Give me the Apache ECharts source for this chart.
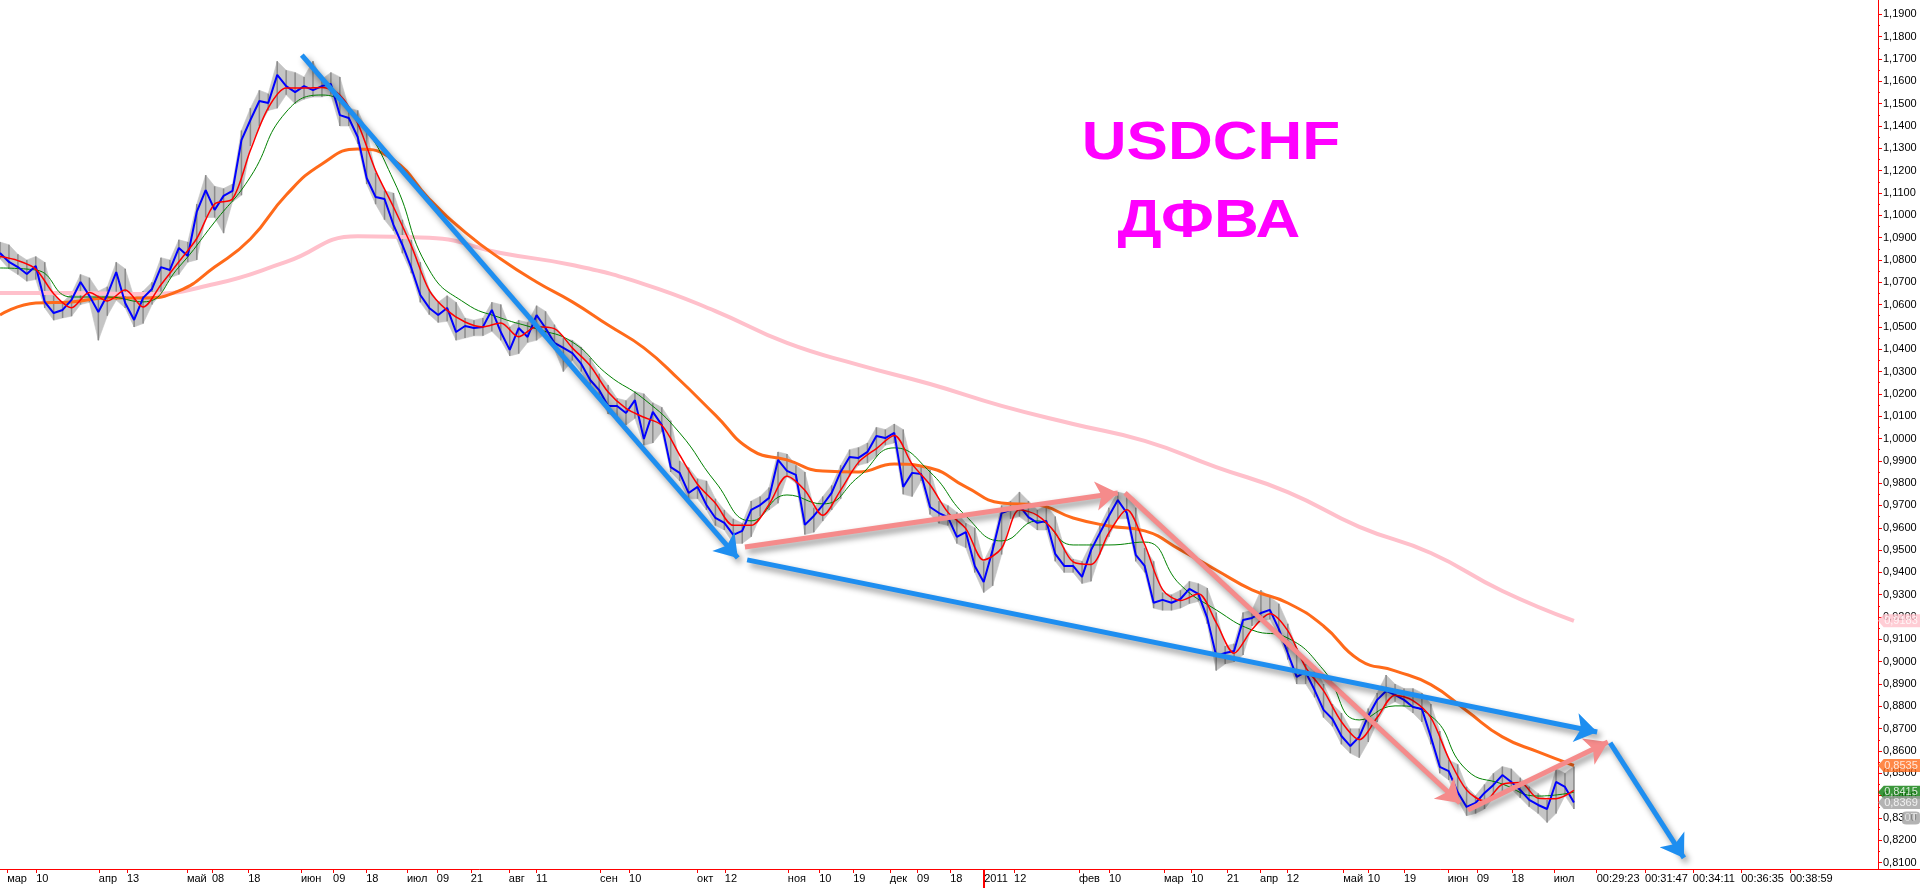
<!DOCTYPE html>
<html>
<head>
<meta charset="utf-8">
<script src="https://cdn.jsdelivr.net/npm/echarts@6/dist/echarts.min.js"></script>
<style>
html,body{margin:0;padding:0;background:#ffffff;}
#chart{width:1920px;height:888px;}
</style>
</head>
<body>
<div id="chart"></div>
<script>
// ---- Data (trading-day index on x, USDCHF price on y) ----
// close every 2 trading days, starting at day 0 (early March 2010)
const CLOSE_STEP = 2;
const closeValues = [
1.0831,1.0791,1.0768,1.0737,1.0773,1.0612,1.0562,1.0576,1.0621,1.0701,
1.0639,1.0567,1.0643,1.0746,1.0607,1.0531,1.0630,1.0670,1.0768,1.0755,
1.0854,1.0818,1.1015,1.1113,1.1024,1.1087,1.1109,1.1337,1.1427,1.1512,
1.1503,1.1629,1.1579,1.1552,1.1579,1.1561,1.1579,1.1588,1.1449,1.1436,
1.1351,1.1167,1.1082,1.1073,1.0957,1.0867,1.0764,1.0643,1.0585,1.0553,
1.0585,1.0477,1.0504,1.0495,1.0500,1.0576,1.0477,1.0397,1.0495,1.0455,
1.0553,1.0495,1.0428,1.0406,1.0383,1.0334,1.0262,1.0217,1.0146,1.0146,
1.0114,1.0172,0.9998,1.0119,1.0061,0.9872,0.9846,0.9756,0.9783,0.9702,
0.9644,0.9622,0.9568,0.9586,0.9680,0.9702,0.9734,0.9904,0.9855,0.9837,
0.9613,0.9653,0.9702,0.9756,0.9850,0.9917,0.9913,0.9940,1.0011,1.0002,
1.0025,0.9783,0.9846,0.9841,0.9693,0.9666,0.9648,0.9559,0.9581,0.9429,
0.9357,0.9500,0.9666,0.9680,0.9698,0.9648,0.9622,0.9630,0.9483,0.9429,
0.9429,0.9380,0.9500,0.9577,0.9653,0.9724,0.9666,0.9479,0.9429,0.9264,
0.9277,0.9264,0.9281,0.9326,0.9304,0.9196,0.9026,0.9039,0.9048,0.9187,
0.9196,0.9218,0.9232,0.9147,0.9039,0.8932,0.8954,0.8873,0.8784,0.8743,
0.8667,0.8622,0.8663,0.8757,0.8829,0.8869,0.8851,0.8829,0.8797,0.8788,
0.8663,0.8529,0.8510,0.8416,0.8349,0.8367,0.8412,0.8448,0.8492,0.8461,
0.8425,0.8381,0.8358,0.8340,0.8461,0.8439,0.8369
];
const highValues = [
1.0880,1.0868,1.0825,1.0800,1.0815,1.0790,1.0640,1.0610,1.0650,1.0735,
1.0720,1.0660,1.0680,1.0790,1.0760,1.0630,1.0660,1.0700,1.0810,1.0800,
1.0890,1.0880,1.1050,1.1180,1.1130,1.1120,1.1140,1.1380,1.1480,1.1560,
1.1545,1.1690,1.1650,1.1640,1.1620,1.1690,1.1610,1.1640,1.1620,1.1480,
1.1470,1.1380,1.1190,1.1110,1.1100,1.0980,1.0890,1.0790,1.0670,1.0610,
1.0640,1.0610,1.0540,1.0530,1.0540,1.0610,1.0600,1.0500,1.0530,1.0520,
1.0595,1.0570,1.0510,1.0450,1.0440,1.0410,1.0360,1.0290,1.0240,1.0180,
1.0170,1.0210,1.0200,1.0160,1.0140,1.0080,0.9900,0.9870,0.9820,0.9810,
0.9730,0.9680,0.9640,0.9620,0.9720,0.9740,0.9780,0.9940,0.9930,0.9880,
0.9850,0.9690,0.9740,0.9790,0.9880,0.9950,0.9960,0.9980,1.0050,1.0040,
1.0065,1.0040,0.9880,0.9880,0.9860,0.9720,0.9700,0.9670,0.9620,0.9600,
0.9450,0.9530,0.9700,0.9720,0.9760,0.9720,0.9680,0.9700,0.9650,0.9510,
0.9460,0.9450,0.9530,0.9610,0.9690,0.9760,0.9750,0.9690,0.9510,0.9450,
0.9310,0.9300,0.9320,0.9360,0.9350,0.9330,0.9220,0.9070,0.9080,0.9220,
0.9230,0.9320,0.9290,0.9260,0.9170,0.9060,0.8990,0.8980,0.8900,0.8810,
0.8770,0.8700,0.8700,0.8790,0.8860,0.8940,0.8900,0.8880,0.8880,0.8860,
0.8810,0.8690,0.8560,0.8540,0.8440,0.8400,0.8450,0.8500,0.8530,0.8520,
0.8480,0.8440,0.8410,0.8380,0.8520,0.8500,0.8530
];
const lowValues = [
1.0805,1.0760,1.0735,1.0705,1.0712,1.0585,1.0530,1.0540,1.0548,1.0600,
1.0610,1.0440,1.0550,1.0620,1.0585,1.0500,1.0515,1.0600,1.0650,1.0720,
1.0735,1.0790,1.0800,1.0990,1.0990,1.0920,1.1060,1.1090,1.1310,1.1400,
1.1470,1.1480,1.1540,1.1500,1.1520,1.1530,1.1530,1.1540,1.1400,1.1400,
1.1320,1.1140,1.1050,1.0980,1.0930,1.0830,1.0740,1.0610,1.0555,1.0520,
1.0525,1.0440,1.0450,1.0460,1.0460,1.0480,1.0440,1.0370,1.0380,1.0430,
1.0440,1.0470,1.0400,1.0300,1.0350,1.0300,1.0230,1.0190,1.0110,1.0100,
1.0060,1.0090,0.9970,0.9980,1.0030,0.9850,0.9810,0.9730,0.9730,0.9680,
0.9610,0.9590,0.9530,0.9530,0.9560,0.9650,0.9680,0.9710,0.9830,0.9800,
0.9570,0.9580,0.9630,0.9680,0.9730,0.9830,0.9880,0.9890,0.9920,0.9970,
0.9980,0.9750,0.9740,0.9810,0.9660,0.9620,0.9610,0.9530,0.9510,0.9400,
0.9310,0.9340,0.9480,0.9640,0.9650,0.9620,0.9590,0.9590,0.9450,0.9400,
0.9400,0.9350,0.9360,0.9480,0.9560,0.9640,0.9640,0.9450,0.9400,0.9240,
0.9230,0.9230,0.9240,0.9260,0.9270,0.9170,0.8960,0.8990,0.9000,0.9030,
0.9160,0.9180,0.9190,0.9120,0.9010,0.8900,0.8900,0.8840,0.8750,0.8710,
0.8630,0.8590,0.8570,0.8640,0.8730,0.8800,0.8820,0.8800,0.8770,0.8730,
0.8630,0.8500,0.8470,0.8380,0.8310,0.8320,0.8340,0.8390,0.8420,0.8430,
0.8390,0.8350,0.8320,0.8280,0.8320,0.8400,0.8340
];
// red fast average, every 4 trading days
const FAST_STEP = 4;
const fastMA = [
1.0815,1.0797,1.0759,1.0649,1.0586,1.0654,1.0616,1.0665,1.0589,1.0689,
1.0792,1.0896,1.1051,1.1073,1.1291,1.1481,1.1570,1.1570,1.1573,1.1539,
1.1412,1.1200,1.1037,1.0863,1.0664,1.0574,1.0522,1.0500,1.0518,1.0456,
1.0501,1.0492,1.0406,1.0326,1.0208,1.0135,1.0095,1.0059,0.9926,0.9795,
0.9710,0.9611,0.9611,0.9705,0.9831,0.9768,0.9656,0.9769,0.9893,0.9955,
1.0013,0.9885,0.9793,0.9669,0.9596,0.9456,0.9508,0.9681,0.9656,0.9578,
0.9447,0.9436,0.9577,0.9681,0.9525,0.9323,0.9274,0.9304,0.9175,0.9038,
0.9144,0.9215,0.9139,0.8975,0.8870,0.8731,0.8651,0.8750,0.8850,0.8826,
0.8749,0.8567,0.8425,0.8376,0.8451,0.8459,0.8388,0.8386,0.8423
];
// green average, every 8 trading days
const MID_STEP = 8;
const midMA = [
1.0764,1.0755,1.0634,1.0634,1.0612,1.0768,1.0970,1.1172,1.1463,1.1539,
1.1427,1.1158,1.0755,1.0607,1.0540,1.0491,1.0432,1.0285,1.0177,1.0025,
0.9805,0.9631,0.9747,0.9707,0.9828,0.9958,0.9850,0.9653,0.9541,0.9631,
0.9523,0.9523,0.9536,0.9344,0.9232,0.9142,0.9106,0.8963,0.8739,0.8802,
0.8757,0.8515,0.8452,0.8398,0.8415
];
// orange average, every 8 trading days
const SLOW_STEP = 8;
const slowMA = [
1.0553,1.0607,1.0612,1.0630,1.0630,1.0661,1.0768,1.0894,1.1091,1.1230,
1.1297,1.1248,1.1073,1.0925,1.0804,1.0701,1.0612,1.0508,1.0406,1.0262,
1.0105,0.9949,0.9904,0.9854,0.9850,0.9886,0.9868,0.9783,0.9711,0.9702,
0.9644,0.9608,0.9586,0.9501,0.9411,0.9322,0.9263,0.9160,0.9008,0.8959,
0.8897,0.8780,0.8663,0.8596,0.8535
];
// pink long average, every 16 trading days
const LONG_STEP = 16;
const longMA = [
1.0652,1.0652,1.0647,1.0692,1.0791,1.0906,1.0899,1.0831,1.0777,1.0692,
1.0571,1.0428,1.0330,1.0244,1.0146,1.0065,0.9989,0.9872,0.9760,0.9604,
0.9487,0.9317,0.9183
];
// hand-drawn arrows: [start [day, price], end [day, price]]
const blueArrows = [
  [[67.5, 1.1718], [165.0, 0.9465]],
  [[167.1, 0.9456], [357.2, 0.8685]],
  [[360.1, 0.8636], [376.6, 0.8121]]
];
const pinkArrows = [
  [[166.6, 0.9514], [250.0, 0.9756]],
  [[251.6, 0.9756], [326.5, 0.8367]],
  [[328.3, 0.8336], [359.6, 0.8640]]
];
// price tags on the right scale
const tagValues = [0.9183, 0.8535, 0.8415, 0.8369];
const tagTexts  = ['0,9183', '0,8535', '0,8415', '0,8369'];
const tagColors = ['#ffc0cb', '#ff6a1a', '#0a7d0a', '#a0a0a0'];
// bottom scale labels
const xTickDays = [1.6,8.1,22.1,28.4,41.8,47.4,55.5,67.3,74.5,81.9,
  91.0,97.7,105.3,113.8,119.9,134.2,140.7,155.9,162.1,176.2,
  183.2,190.8,199.0,205.1,212.5,220.1,226.8,241.3,248.0,260.3,
  266.4,274.4,281.8,287.8,300.4,305.9,314.0,323.8,330.3,338.1,
  347.5,357.1,367.9,378.6,389.4,400.3];
const xTickLabels = ['мар','10','апр','13','май','08','18','июн','09','18',
  'июл','09','21','авг','11','сен','10','окт','12','ноя',
  '10','19','дек','09','18','2011','12','фев','10','мар',
  '10','21','апр','12','май','10','19','июн','09','18',
  'июл','00:29:23','00:31:47','00:34:11','00:36:35','00:38:59'];
const yearDay = [220.1];
const yTickValues = [0.81,0.82,0.83,0.84,0.85,0.86,0.87,0.88,0.89,0.90,
  0.91,0.92,0.93,0.94,0.95,0.96,0.97,0.98,0.99,1.00,
  1.01,1.02,1.03,1.04,1.05,1.06,1.07,1.08,1.09,1.10,
  1.11,1.12,1.13,1.14,1.15,1.16,1.17,1.18,1.19];

// ---- Chart ----
const X_MAX = 429.4;     // right edge of window in trading days
const AXIS_DAY = 420;    // where the price scale sits
const Y_MIN = 0.80712, Y_MAX = 1.19646;
const FONT = '"Liberation Sans", Arial, sans-serif';

const yMinor = yTickValues.slice(0, -1).map(v => +(v + 0.005).toFixed(3));
const pairs = (arr, step) => arr.map((v, i) => [i * step, v]);
const xLabel = v => {
  let best = -1, bd = 1e9;
  xTickDays.forEach((d, i) => { const dd = Math.abs(d - v); if (dd < bd) { bd = dd; best = i; } });
  return bd < 0.05 ? xTickLabels[best] : '';
};
const fmtPrice = v => v.toFixed(4).replace('.', ',');

const barData = closeValues.map((c, i) => [i * CLOSE_STEP, lowValues[i], highValues[i]]);

const tagShape = 'path://M0,6 L6,0 L44,0 L44,12 L6,12 Z';
const tagData = tagValues.map((v, i) => ({
  value: [AXIS_DAY, v],
  symbol: tagShape,
  symbolSize: [42, 13],
  symbolOffset: [21, 0],
  itemStyle: { color: tagColors[i] },
  label: { show: true, position: 'inside', formatter: tagTexts[i], color: '#ffffff', fontSize: 11, fontFamily: FONT, offset: [2, 0] }
}));
tagData.push({
  value: [AXIS_DAY, 0.8300],
  symbol: 'roundRect',
  symbolSize: [18, 13],
  symbolOffset: [33, 0],
  itemStyle: { color: '#a0a0a0' },
  label: { show: true, position: 'inside', formatter: '0T', color: '#ffffff', fontSize: 11, fontFamily: FONT }
});

const arrowStyle = (color) => ({
  color: color, width: 5, opacity: 1, curveness: 0,
  shadowColor: 'rgba(0,0,0,0.45)', shadowBlur: 6, shadowOffsetX: 3, shadowOffsetY: 4
});

// band between each high/low sample and the next one (the dense daily bars)
const bandItem = (params, api) => {
  const i = params.dataIndex;
  if (i >= barData.length - 1) return null;
  const n = barData[i + 1];
  const pts = [
    api.coord([api.value(0), api.value(2)]),
    api.coord([n[0], n[2]]),
    api.coord([n[0], n[1]]),
    api.coord([api.value(0), api.value(1)])
  ];
  return { type: 'polygon', shape: { points: pts },
    style: { fill: '#c4c4c4', stroke: '#c4c4c4', lineWidth: 0.6 } };
};

const chart = echarts.init(document.getElementById('chart'), null, { renderer: 'canvas' });
chart.setOption({
  animation: false,
  backgroundColor: '#ffffff',
  grid: { left: 0, right: 0, top: 0, bottom: 19 },
  xAxis: [{
    type: 'value', min: 0, max: X_MAX, position: 'bottom',
    splitLine: { show: false },
    axisLine: { show: true, onZero: false, lineStyle: { color: '#ff0000', width: 1 } },
    axisTick: { show: true, customValues: xTickDays, length: 4, lineStyle: { color: '#ff0000' } },
    axisLabel: { show: true, customValues: xTickDays, formatter: xLabel, align: 'left', margin: 4,
      color: '#000000', fontSize: 11, fontFamily: FONT }
  }, {
    type: 'value', min: 0, max: X_MAX, position: 'bottom',
    splitLine: { show: false },
    axisLine: { show: false, onZero: false },
    axisTick: { show: true, customValues: yearDay, length: 20, lineStyle: { color: '#ff0000', width: 2 } },
    axisLabel: { show: false }
  }],
  yAxis: [{
    type: 'value', min: Y_MIN, max: Y_MAX, position: 'right', offset: -42,
    splitLine: { show: false },
    axisLine: { show: true, onZero: false, lineStyle: { color: '#ff0000', width: 1 } },
    axisTick: { show: true, customValues: yTickValues, length: 4, lineStyle: { color: '#ff0000' } },
    axisLabel: { show: true, customValues: yTickValues, formatter: fmtPrice, margin: 5,
      color: '#000000', fontSize: 11, fontFamily: FONT }
  }, {
    type: 'value', min: Y_MIN, max: Y_MAX, position: 'right', offset: -42,
    splitLine: { show: false },
    axisLine: { show: false, onZero: false },
    axisTick: { show: true, customValues: yMinor, length: 2, lineStyle: { color: '#ff0000' } },
    axisLabel: { show: false }
  }],
  graphic: [
    { type: 'text', x: 1211, y: 144, scaleX: 1.17, z: 100,
      style: { text: 'USDCHF', font: 'bold 53px ' + FONT, fill: '#ff00ff', align: 'center', verticalAlign: 'middle' } },
    { type: 'text', x: 1209, y: 222, scaleX: 1.17, z: 100,
      style: { text: 'ДФВА', font: 'bold 53px ' + FONT, fill: '#ff00ff', align: 'center', verticalAlign: 'middle' } }
  ],
  series: [
    {
      type: 'custom', name: 'band', xAxisIndex: 0, yAxisIndex: 0,
      encode: { x: 0, y: [1, 2] }, data: barData, renderItem: bandItem, silent: true, z: 1
    },
    {
      type: 'custom', name: 'bars', xAxisIndex: 0, yAxisIndex: 0,
      encode: { x: 0, y: [1, 2] },
      data: barData,
      renderItem: (params, api) => {
        const a = api.coord([api.value(0), api.value(1)]);
        const b = api.coord([api.value(0), api.value(2)]);
        return { type: 'line', shape: { x1: a[0], y1: a[1], x2: b[0], y2: b[1] },
          style: { stroke: '#8a8a8a', lineWidth: 1.5 } };
      },
      silent: true, z: 1
    },
    { type: 'line', name: 'long', data: pairs(longMA, LONG_STEP), showSymbol: false, smooth: true,
      lineStyle: { color: '#ffc0cb', width: 4 }, z: 2 },
    { type: 'line', name: 'slow', data: pairs(slowMA, SLOW_STEP), showSymbol: false, smooth: true,
      lineStyle: { color: '#ff6a1a', width: 3 }, z: 3 },
    { type: 'line', name: 'mid', data: pairs(midMA, MID_STEP), showSymbol: false, smooth: true,
      lineStyle: { color: '#008000', width: 1 }, z: 4 },
    { type: 'line', name: 'close', data: pairs(closeValues, CLOSE_STEP), showSymbol: false,
      lineStyle: { color: '#0000ff', width: 2 }, z: 5 },
    { type: 'line', name: 'fast', data: pairs(fastMA, FAST_STEP), showSymbol: false, smooth: 0.3,
      lineStyle: { color: '#ff0000', width: 1.5 }, z: 6 },
    { type: 'lines', coordinateSystem: 'cartesian2d', xAxisIndex: 0, yAxisIndex: 0,
      symbol: ['none', 'arrow'], symbolSize: 22,
      lineStyle: arrowStyle('#1e8ef0'),
      data: blueArrows.map(c => ({ coords: c })), z: 10 },
    { type: 'lines', coordinateSystem: 'cartesian2d', xAxisIndex: 0, yAxisIndex: 0,
      symbol: ['none', 'arrow'], symbolSize: 22,
      lineStyle: arrowStyle('#f58b8b'),
      data: pinkArrows.map(c => ({ coords: c })), z: 9 },
    { type: 'scatter', name: 'tags', data: tagData, clip: false, z: 20, silent: true }
  ]
});
</script>
</body>
</html>
